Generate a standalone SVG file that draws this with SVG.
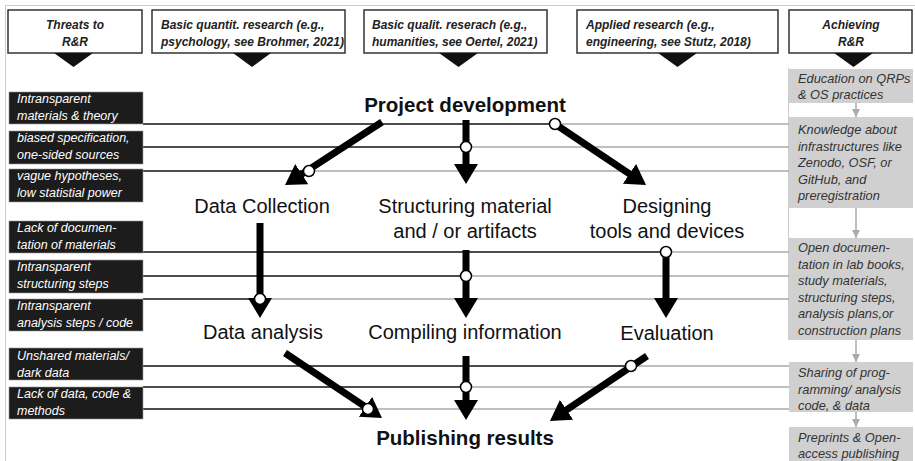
<svg xmlns="http://www.w3.org/2000/svg" width="915" height="461" viewBox="0 0 915 461">
<defs>
<style>
.hdr{fill:#fff;stroke:#333;stroke-width:1.5}
.hdrt{font-family:"Liberation Sans",Arial,sans-serif;font-size:12px;font-weight:bold;font-style:italic;fill:#222}
.tri{fill:#111}
.thr{fill:#1c1c1c;stroke:#999;stroke-width:0.6}
.thrt{font-family:"Liberation Sans",Arial,sans-serif;font-size:12.5px;font-style:italic;fill:#fff}
.ach{fill:#d0d0d0}
.acht{font-family:"Liberation Sans",Arial,sans-serif;font-size:12.8px;font-style:italic;fill:#333}
.lbl{font-family:"Liberation Sans",Arial,sans-serif;font-size:20px;fill:#111;text-anchor:middle}
.lblb{font-family:"Liberation Sans",Arial,sans-serif;font-size:20.5px;font-weight:bold;fill:#111;text-anchor:middle}
.hb{stroke:#111;stroke-width:1.3;fill:none}
.hg{stroke:#aaa;stroke-width:1.3;fill:none}
.arr{stroke:#000;stroke-width:7;fill:none;marker-end:url(#ah)}
.gar{stroke:#aaa;stroke-width:1.5;fill:none;marker-end:url(#gh)}
.cir{fill:#fff;stroke:#000;stroke-width:1.5}
</style>
<marker id="ah" markerUnits="userSpaceOnUse" viewBox="0 0 20 24" markerWidth="20" markerHeight="24" refX="10" refY="12" orient="auto">
<path d="M0,0 L20,12 L0,24 z" fill="#000"/>
</marker>
<marker id="gh" markerUnits="userSpaceOnUse" viewBox="0 0 8 8" markerWidth="8" markerHeight="8" refX="8" refY="4" orient="auto">
<path d="M0,0 L8,4 L0,8 z" fill="#aaa"/>
</marker>
</defs>
<rect x="0" y="0" width="915" height="461" fill="#fff"/>
<path d="M5,5.5 H915 M5.5,5 V461" stroke="#ccc" stroke-width="1" fill="none"/>
<path d="M788.5,68 V340" stroke="#ccc" stroke-width="1" fill="none"/>

<g id="header-threats">
<rect class="hdr" x="8" y="10" width="134" height="43"/>
<text class="hdrt" text-anchor="middle" x="75" y="28.5">Threats to</text>
<text class="hdrt" text-anchor="middle" x="75" y="46">R&amp;R</text>
<polygon class="tri" points="54,53 93,53 73.5,67"/>
</g>
<g id="header-quant">
<rect class="hdr" x="152" y="10" width="193" height="43"/>
<text class="hdrt" x="161" y="28.5">Basic quantit. research (e.g.,</text>
<text class="hdrt" x="161" y="46">psychology, see Brohmer, 2021)</text>
<polygon class="tri" points="233,53 271,53 252,67"/>
</g>
<g id="header-qual">
<rect class="hdr" x="364" y="10" width="183" height="43"/>
<text class="hdrt" x="372" y="28.5">Basic qualit. reserach (e.g.,</text>
<text class="hdrt" x="372" y="46">humanities, see Oertel, 2021)</text>
<polygon class="tri" points="439,53 478,53 458.5,67"/>
</g>
<g id="header-applied">
<rect class="hdr" x="577" y="10" width="201" height="43"/>
<text class="hdrt" x="586" y="28.5">Applied research (e.g.,</text>
<text class="hdrt" x="586" y="46">engineering, see Stutz, 2018)</text>
<polygon class="tri" points="658,53 697,53 677.5,67"/>
</g>
<g id="header-achieving">
<rect class="hdr" x="789" y="10" width="123" height="43"/>
<text class="hdrt" text-anchor="middle" x="851" y="28.5">Achieving</text>
<text class="hdrt" text-anchor="middle" x="851" y="46">R&amp;R</text>
<polygon class="tri" points="834,53 873,53 853.5,67"/>
</g>

<g id="connectors">
<path class="hb" d="M143,124 H555"/><path class="hg" d="M555,124 H789"/>
<path class="hb" d="M143,147 H466"/><path class="hg" d="M466,147 H789"/>
<path class="hb" d="M143,171 H309"/><path class="hg" d="M309,171 H789"/>
<path class="hb" d="M143,252 H666"/><path class="hg" d="M666,252 H789"/>
<path class="hb" d="M143,276 H466"/><path class="hg" d="M466,276 H789"/>
<path class="hb" d="M143,299 H260"/><path class="hg" d="M260,299 H789"/>
<path class="hb" d="M143,366 H631"/><path class="hg" d="M631,366 H789"/>
<path class="hb" d="M143,387 H466"/><path class="hg" d="M466,387 H789"/>
<path class="hb" d="M143,409 H368"/><path class="hg" d="M368,409 H789"/>

<path class="arr" d="M382,122 L293.4,179.6"/>
<path class="arr" d="M466,120 L466,174"/>
<path class="arr" d="M555,124 L637.7,179.4"/>
<path class="arr" d="M260,223 L260,308"/>
<path class="arr" d="M466,250 L466,308"/>
<path class="arr" d="M666,252 L666,308"/>
<path class="arr" d="M285,353 L373.7,412.4"/>
<path class="arr" d="M466,356 L466,410"/>
<path class="arr" d="M647,356 L558.3,415.4"/>

<circle class="cir" cx="555" cy="124" r="5.5"/>
<circle class="cir" cx="466" cy="147" r="5.5"/>
<circle class="cir" cx="309" cy="171" r="5.5"/>
<circle class="cir" cx="666" cy="252" r="5.5"/>
<circle class="cir" cx="466" cy="276" r="5.5"/>
<circle class="cir" cx="260" cy="299" r="5.5"/>
<circle class="cir" cx="631" cy="366" r="5.5"/>
<circle class="cir" cx="466" cy="387" r="5.5"/>
<circle class="cir" cx="368" cy="409" r="5.5"/>

<path class="gar" d="M856,103 V117"/>
<path class="gar" d="M856,208 V238"/>
<path class="gar" d="M856,340 V362"/>
<path class="gar" d="M856,412 V427"/>
</g>

<g id="threat-1"><rect class="thr" x="9" y="92" width="134" height="32"/>
<text class="thrt" x="17" y="103">Intransparent</text><text class="thrt" x="17" y="120">materials &amp; theory</text></g>
<g id="threat-2"><rect class="thr" x="9" y="131" width="134" height="33"/>
<text class="thrt" x="17" y="142">biased specification,</text><text class="thrt" x="17" y="159">one-sided sources</text></g>
<g id="threat-3"><rect class="thr" x="9" y="169" width="134" height="33"/>
<text class="thrt" x="17" y="180">vague hypotheses,</text><text class="thrt" x="17" y="197">low statistial power</text></g>
<g id="threat-4"><rect class="thr" x="9" y="221" width="134" height="32"/>
<text class="thrt" x="17" y="232">Lack of documen-</text><text class="thrt" x="17" y="249">tation of materials</text></g>
<g id="threat-5"><rect class="thr" x="9" y="260" width="134" height="33"/>
<text class="thrt" x="17" y="271">Intransparent</text><text class="thrt" x="17" y="288">structuring steps</text></g>
<g id="threat-6"><rect class="thr" x="9" y="299" width="134" height="32"/>
<text class="thrt" x="17" y="310">Intransparent</text><text class="thrt" x="17" y="327">analysis steps / code</text></g>
<g id="threat-7"><rect class="thr" x="9" y="348" width="134" height="32"/>
<text class="thrt" x="17" y="360">Unshared materials/</text><text class="thrt" x="17" y="377">dark data</text></g>
<g id="threat-8"><rect class="thr" x="9" y="387" width="134" height="32"/>
<text class="thrt" x="17" y="398">Lack of data, code &amp;</text><text class="thrt" x="17" y="415">methods</text></g>

<g id="ach-1"><rect class="ach" x="789" y="69" width="124" height="34"/>
<text class="acht" x="798" y="83">Education on QRPs</text><text class="acht" x="798" y="98.5">&amp; OS practices</text></g>
<g id="ach-2"><rect class="ach" x="789" y="117" width="124" height="91"/>
<text class="acht" x="798" y="134">Knowledge about</text><text class="acht" x="798" y="150.5">infrastructures like</text>
<text class="acht" x="798" y="167">Zenodo, OSF, or</text><text class="acht" x="798" y="183.5">GitHub, and</text>
<text class="acht" x="798" y="200">preregistration</text></g>
<g id="ach-3"><rect class="ach" x="789" y="238" width="124" height="102"/>
<text class="acht" x="798" y="252">Open documen-</text><text class="acht" x="798" y="268.5">tation in lab books,</text>
<text class="acht" x="798" y="285">study materials,</text><text class="acht" x="798" y="301.5">structuring steps,</text>
<text class="acht" x="798" y="318">analysis plans,or</text><text class="acht" x="798" y="334.5">construction plans</text></g>
<g id="ach-4"><rect class="ach" x="789" y="362" width="124" height="50"/>
<text class="acht" x="798" y="377">Sharing of prog-</text><text class="acht" x="798" y="393.5">ramming/ analysis</text>
<text class="acht" x="798" y="410">code, &amp; data</text></g>
<g id="ach-5"><rect class="ach" x="789" y="427" width="124" height="34"/>
<text class="acht" x="798" y="442">Preprints &amp; Open-</text><text class="acht" x="798" y="458">access publishing</text></g>

<g id="node-project"><text class="lblb" x="465" y="112">Project development</text></g>
<g id="node-datacollection"><text class="lbl" x="262" y="213">Data Collection</text></g>
<g id="node-structuring"><text class="lbl" x="465" y="213">Structuring material</text><text class="lbl" x="465" y="238">and / or artifacts</text></g>
<g id="node-designing"><text class="lbl" x="667" y="213">Designing</text><text class="lbl" x="667" y="238">tools and devices</text></g>
<g id="node-dataanalysis"><text class="lbl" x="263" y="339">Data analysis</text></g>
<g id="node-compiling"><text class="lbl" x="465" y="339">Compiling information</text></g>
<g id="node-evaluation"><text class="lbl" x="667" y="340">Evaluation</text></g>
<g id="node-publishing"><text class="lblb" x="465" y="445">Publishing results</text></g>
</svg>
